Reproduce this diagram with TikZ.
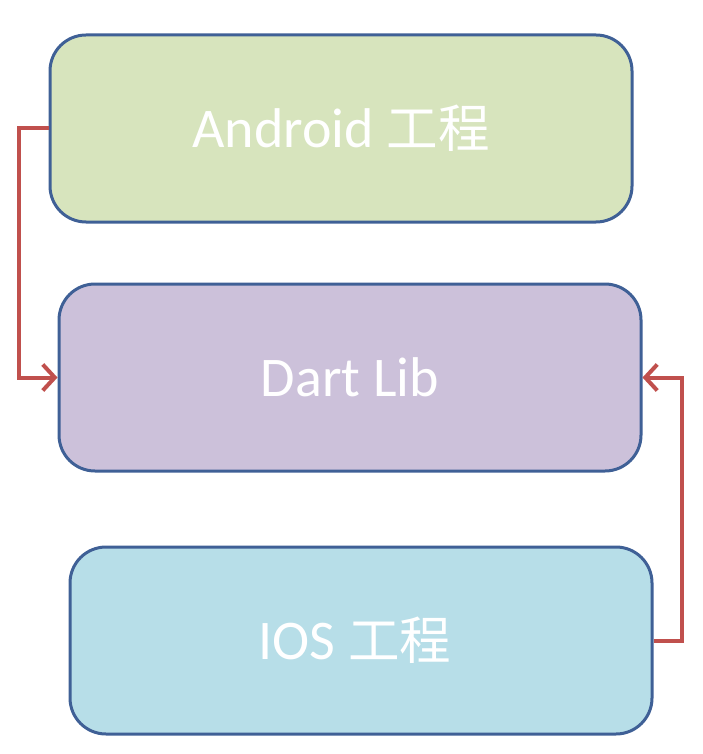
\documentclass[tikz,border=0pt]{standalone}
\usepackage{fontspec}
\setmainfont{Carlito}
\newfontfamily\cjk{Noto Sans CJK SC}[Scale=0.92]
\usetikzlibrary{arrows.meta,positioning}

\definecolor{androidgreen}{HTML}{D7E4BD}
\definecolor{dartlilac}{HTML}{CCC1DA}
\definecolor{iosblue}{HTML}{B7DEE8}
\definecolor{boxborder}{HTML}{3F6096}
\definecolor{linkred}{HTML}{C0504D}

\begin{document}
\begin{tikzpicture}[
  x=1pt, y=-1pt,
  box/.style={draw=boxborder, line width=3pt, rounded corners=36pt, minimum width=582pt, minimum height=187pt, text=white, font=\fontsize{56}{64}\selectfont},
  link/.style={draw=linkred, line width=4pt, -{Straight Barb[length=12pt,width=26pt]}},
]
  \useasboundingbox (0,0) rectangle (703,754);

  % Boxes
  \node[box, fill=androidgreen] (android) at (341,128.5) {Android {\cjk 工程}};
  \node[box, fill=dartlilac, below=59pt of android, xshift=9pt] (dartlib) {Dart Lib};
  \node[box, fill=iosblue, below=73pt of dartlib, xshift=11pt] (ios) {IOS {\cjk 工程}\hspace*{12pt}};

  % Links into the lib
  \draw[link] (android.west) -- ++(-30,0) |- (dartlib.west);
  \draw[link] (ios.east) -- ++(28,0) |- (dartlib.east);
\end{tikzpicture}
\end{document}
